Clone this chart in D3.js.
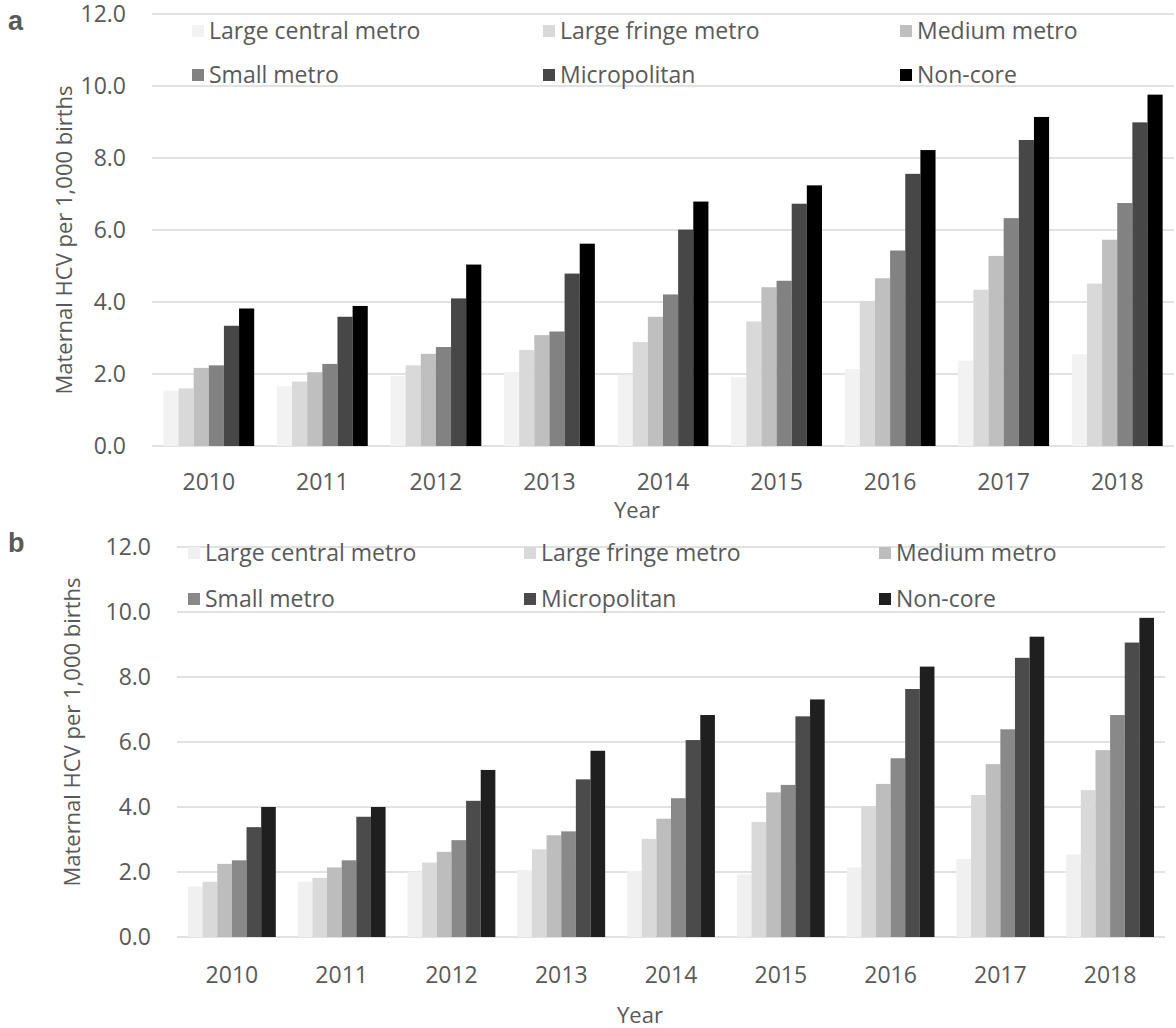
<!DOCTYPE html>
<html>
<head>
<meta charset="utf-8">
<script src="https://cdn.jsdelivr.net/npm/d3@7"></script>
<style>
    body { margin: 0; background: #fff; }
    text { font-family: "Open Sans", sans-serif; fill: #595959; }
</style>
</head>
<body>
<div id="chart-container"></div>
<script>
//categorieen en series
const years = ['2010', '2011', '2012', '2013', '2014', '2015', '2016', '2017', '2018']
const seriesNames = ['Large central metro', 'Large fringe metro', 'Medium metro', 'Small metro', 'Micropolitan', 'Non-core']
const yTicks = [0, 2, 4, 6, 8, 10, 12]

//panel a waardes
const aLargeCentral = [1.54, 1.66, 1.95, 2.05, 1.98, 1.91, 2.14, 2.37, 2.55]
const aLargeFringe = [1.60, 1.79, 2.24, 2.67, 2.89, 3.46, 4.03, 4.34, 4.51]
const aMedium = [2.17, 2.05, 2.56, 3.08, 3.59, 4.41, 4.66, 5.28, 5.73]
const aSmall = [2.24, 2.28, 2.75, 3.18, 4.21, 4.59, 5.43, 6.33, 6.75]
const aMicro = [3.34, 3.59, 4.10, 4.79, 6.01, 6.73, 7.56, 8.50, 8.99]
const aNonCore = [3.82, 3.89, 5.04, 5.62, 6.79, 7.24, 8.22, 9.14, 9.76]

//panel b waardes
const bLargeCentral = [1.55, 1.70, 2.01, 2.06, 2.04, 1.93, 2.14, 2.40, 2.54]
const bLargeFringe = [1.70, 1.82, 2.29, 2.70, 3.02, 3.54, 4.03, 4.37, 4.52]
const bMedium = [2.25, 2.14, 2.62, 3.13, 3.64, 4.45, 4.71, 5.32, 5.75]
const bSmall = [2.36, 2.36, 2.98, 3.25, 4.27, 4.68, 5.50, 6.39, 6.83]
const bMicro = [3.38, 3.70, 4.19, 4.85, 6.06, 6.79, 7.63, 8.59, 9.06]
const bNonCore = [4.00, 4.00, 5.14, 5.73, 6.83, 7.31, 8.32, 9.24, 9.82]

const width = 1176
const height = 1028

const svg = d3.select('#chart-container')
    .append('svg')
    .attr('width', width)
    .attr('height', height)

//tekent een panel
const drawPanel = cfg => {
    const g = svg.append('g')

    //x schalen: jaren en series binnen een jaar
    const xScale = d3.scaleBand()
        .domain(years)
        .range([cfg.left, cfg.right])
        .paddingInner(0.2)
        .paddingOuter(0.1)
    const xSub = d3.scaleBand()
        .domain(seriesNames)
        .range([0, xScale.bandwidth()])

    const yScale = d3.scaleLinear()
        .domain([0, 12])
        .range([cfg.bottom, cfg.top])

    //gridlijnen
    g.selectAll('.grid')
        .data(yTicks)
        .enter()
        .append('line')
        .attr('x1', cfg.left)
        .attr('x2', cfg.right)
        .attr('y1', d => yScale(d))
        .attr('y2', d => yScale(d))
        .attr('stroke', '#d9d9d9')
        .attr('stroke-width', 1.5)

    //y as labels
    const yAxis = g.append('g')
        .attr('transform', `translate(${cfg.left}, 0)`)
        .call(d3.axisLeft(yScale).tickValues(yTicks).tickSize(0).tickPadding(26).tickFormat(d3.format('.1f')))
    yAxis.select('.domain').remove()
    yAxis.selectAll('text')
        .style('font-family', '"Open Sans", sans-serif')
        .style('font-size', '23px')
        .attr('fill', '#595959')

    //bars per serie
    cfg.values.forEach((vals, i) => {
        g.selectAll('.bar-' + i)
            .data(vals)
            .enter()
            .append('rect')
            .attr('x', (d, j) => xScale(years[j]) + xSub(seriesNames[i]))
            .attr('y', d => yScale(d))
            .attr('width', xSub.bandwidth())
            .attr('height', d => cfg.bottom - yScale(d))
            .attr('fill', cfg.colors[i])
    })

    //x as labels
    const xAxis = g.append('g')
        .attr('transform', `translate(0, ${cfg.bottom})`)
        .call(d3.axisBottom(xScale).tickSize(0))
    xAxis.select('.domain').remove()
    xAxis.selectAll('text')
        .attr('y', cfg.yearOffset)
        .attr('dy', '0.35em')
        .style('font-family', '"Open Sans", sans-serif')
        .style('font-size', '23px')
        .attr('fill', '#595959')

    //titel x as
    g.append('text')
        .attr('x', cfg.yearTitleX)
        .attr('y', cfg.yearTitleY)
        .attr('text-anchor', 'middle')
        .style('font-size', '22px')
        .text('Year')

    //titel y as
    g.append('text')
        .attr('transform', `translate(${cfg.yTitleX}, ${cfg.yTitleY}) rotate(-90)`)
        .attr('text-anchor', 'middle')
        .style('font-size', '22px')
        .text('Maternal HCV per 1,000 births')

    //legenda
    seriesNames.forEach((name, i) => {
        const col = i % 3
        const row = Math.floor(i / 3)
        const lx = cfg.legendX[col]
        const ly = cfg.legendY[row]
        g.append('rect')
            .attr('x', lx)
            .attr('y', ly - 6)
            .attr('width', 12)
            .attr('height', 12)
            .attr('fill', cfg.colors[i])
        g.append('text')
            .attr('x', lx + 17)
            .attr('y', ly)
            .attr('dy', '0.35em')
            .style('font-size', '23px')
            .text(name)
    })

    //panel letter
    g.append('text')
        .attr('x', cfg.letterX)
        .attr('y', cfg.letterY)
        .style('font-family', '"Liberation Sans", Arial, sans-serif')
        .style('font-weight', 'bold')
        .style('font-size', '27px')
        .attr('fill', '#000')
        .text(cfg.letter)
}

drawPanel({
    letter: 'a', letterX: 8, letterY: 30,
    left: 152, right: 1174, top: 14, bottom: 446,
    values: [aLargeCentral, aLargeFringe, aMedium, aSmall, aMicro, aNonCore],
    colors: ['#f2f2f2', '#d9d9d9', '#bfbfbf', '#828282', '#474747', '#000000'],
    yearOffset: 36,
    yearTitleX: 637, yearTitleY: 518,
    yTitleX: 72, yTitleY: 240,
    legendX: [192, 543, 900],
    legendY: [31, 75]
})

drawPanel({
    letter: 'b', letterX: 8, letterY: 552,
    left: 177, right: 1165, top: 547, bottom: 937,
    values: [bLargeCentral, bLargeFringe, bMedium, bSmall, bMicro, bNonCore],
    colors: ['#f0f0f0', '#d9d9d9', '#bdbdbd', '#898989', '#4b4b4b', '#1f1f1f'],
    yearOffset: 38,
    yearTitleX: 640, yearTitleY: 1023,
    yTitleX: 80, yTitleY: 732,
    legendX: [188, 524, 879],
    legendY: [553, 599]
})
</script>
</body>
</html>
